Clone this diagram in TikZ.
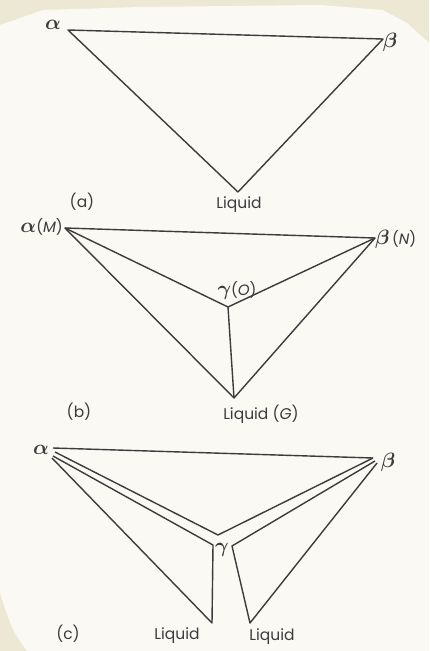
\documentclass[tikz,border=0pt]{standalone}
\usepackage{fontspec}
\setsansfont{Poppins}
\definecolor{ink}{HTML}{3E3A3E}
\definecolor{paper}{HTML}{FAF9F4}
\definecolor{board}{HTML}{ECE8D3}
\begin{document}
\begin{tikzpicture}[x=1pt,y=-1pt,
  edge/.style={draw=ink,line width=1.4pt,line join=round},
  lbl/.style={text=ink,inner sep=0pt,font=\sffamily\fontsize{15.5}{15.5}\selectfont},
  glbl/.style={text=ink,inner sep=0pt,font=\boldmath\fontsize{20}{20}\selectfont}]
\fill[board] (0,0) rectangle (429,651);
\useasboundingbox (0,0) rectangle (429,651);
\fill[paper] (0,25) -- (43,10) -- (140,7) -- (320,5) -- (383,10) -- (407,23) -- (429,43)
  -- (429,651) -- (27,651) .. controls (12,630) .. (0,593) -- cycle;
% (a)
\coordinate (a1) at (68,30);
\coordinate (b1) at (383,39);
\coordinate (l1) at (238,192);
\draw[edge] (a1) -- (b1) -- (l1) -- cycle;
\node[glbl] (ta1) at (53,25) {$\alpha$};
\node[glbl] (tb1) at (390,42) {$\beta$};
\node[lbl] (tl1) at (239,205) {Liquid};
\node[lbl] (pa) at (82,202) {(a)};
% (b)
\coordinate (m) at (65,228);
\coordinate (n) at (375,238);
\coordinate (o) at (228,307);
\coordinate (g) at (234,398);
\draw[edge] (m) -- (n) -- (g) -- cycle;
\draw[edge] (m) -- (o) -- (n);
\draw[edge] (o) -- (g);
\node[glbl,anchor=east] (tm) at (63,227) {$\alpha$\sffamily\fontsize{15}{15}\selectfont(\textit{M})};
\node[glbl,anchor=west] (tn) at (375,239) {$\beta$\sffamily\fontsize{15}{15}\selectfont\,(\textit{N})};
\node[glbl] (to) at (237,291) {$\gamma$\sffamily\fontsize{15}{15}\selectfont(\textit{O})};
\node[lbl] (tg) at (261,414) {Liquid (\textit{G})};
\node[lbl] (pb) at (79,412) {(b)};
% (c)
\coordinate (ac) at (53,448);
\coordinate (ac1) at (55,452);
\coordinate (ac2) at (53,456);
\coordinate (ac3) at (52,458);
\coordinate (bc) at (373,458);
\coordinate (bc1) at (375,461);
\coordinate (bc2) at (377,463);
\coordinate (gc) at (218,535);
\coordinate (lc) at (213,545);
\coordinate (rc) at (232,546);
\coordinate (lq) at (212,623);
\coordinate (rq) at (250,623);
\draw[edge] (ac) -- (bc);
\draw[edge] (ac1) -- (gc) -- (bc);
\draw[edge] (ac2) -- (lc) -- (lq) -- (ac3);
\draw[edge] (bc1) -- (rc) -- (rq) -- (bc2);
\node[glbl] (tac) at (41,450) {$\alpha$};
\node[glbl] (tbc) at (388,462) {$\beta$};
\node[glbl] (tgc) at (222,550) {$\gamma$};
\node[lbl] (tlq) at (177,636) {Liquid};
\node[lbl] (trq) at (272,637) {Liquid};
\node[lbl] (pc) at (68,634) {(c)};
\end{tikzpicture}
\end{document}
